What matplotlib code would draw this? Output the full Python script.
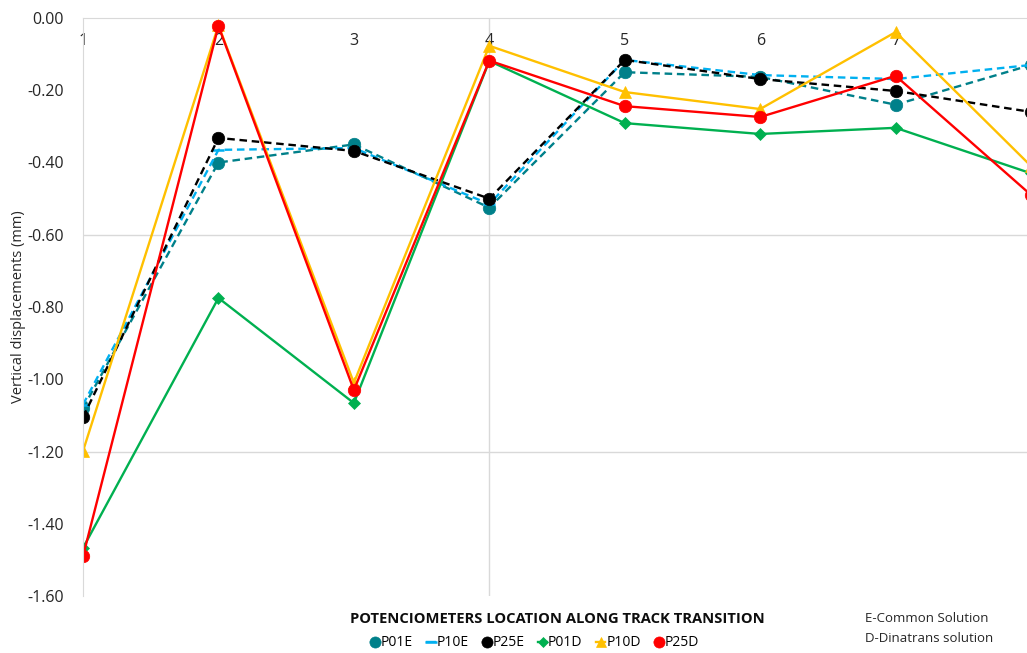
import matplotlib
matplotlib.use("Agg")
import matplotlib.pyplot as plt
from matplotlib.lines import Line2D

plt.rcParams['font.family'] = ['Open Sans', 'DejaVu Sans']

# potentiometer locations along the track transition
locations = [1, 2, 3, 4, 5, 6, 7, 8]
tick_labels = ["1", "2", "3", "4", "5", "6", "7"]

# vertical displacements (mm)
p01e = [-1.08, -0.40, -0.35, -0.525, -0.15, -0.163, -0.24, -0.13]
p10e = [-1.07, -0.365, -0.36, -0.515, -0.116, -0.158, -0.169, -0.13]
p25e = [-1.105, -0.332, -0.368, -0.50, -0.116, -0.169, -0.202, -0.26]
p01d = [-1.467, -0.775, -1.066, -0.119, -0.291, -0.321, -0.304, -0.43]
p10d = [-1.199, -0.02, -1.01, -0.077, -0.205, -0.252, -0.039, -0.41]
p25d = [-1.49, -0.022, -1.03, -0.118, -0.244, -0.274, -0.16, -0.49]

series = [
    ("P01E", p01e, "#00808A", "--", "o", 9),
    ("P10E", p10e, "#00B0F0", "--", "_", 9),
    ("P25E", p25e, "black", "--", "o", 9),
    ("P01D", p01d, "#00B050", "-", "D", 6),
    ("P10D", p10d, "#FFC000", "-", "^", 8),
    ("P25D", p25d, "#FF0000", "-", "o", 9),
]

fig = plt.figure(figsize=(10.27, 6.53), dpi=100)
ax = fig.add_axes([83 / 1027, 1 - 596 / 653, 1 - 83 / 1027, (596 - 18) / 653])

grid_c = "#D9D9D9"
for gy in [-0.6, -1.2]:
    ax.axhline(gy, color=grid_c, lw=1, zorder=0)
ax.axvline(4, color=grid_c, lw=1, zorder=0)

handles = []
for name, vals, col, ls, mk, ms in series:
    line, = ax.plot(locations, vals, color=col, linestyle=ls, lw=1.7,
                    marker=mk, markersize=ms, markeredgewidth=1.8 if mk == "_" else 0.5,
                    markeredgecolor=col, markerfacecolor=col)
    if ls == "--":
        line.set_dashes((3.2, 2))
    handles.append(Line2D([0], [0], color=col, lw=1.7, marker=mk, markersize=ms - 1,
                          markeredgecolor=col, markerfacecolor=col,
                          markeredgewidth=1.8 if mk == "_" else 0.5))

# category 8 sits just past the right edge, as in the cropped original
ax.set_xlim(1, 7.97)
ax.set_ylim(-1.6, 0)
ax.set_xticks(locations[:len(tick_labels)])
ax.set_xticklabels(tick_labels)
ax.set_yticks([-1.6, -1.4, -1.2, -1.0, -0.8, -0.6, -0.4, -0.2, 0.0])
ax.set_yticklabels([f"{v:.2f}" for v in ax.get_yticks()])

ax.spines['bottom'].set_position(('data', 0))
ax.spines['bottom'].set_color(grid_c)
ax.spines['left'].set_color(grid_c)
ax.spines['top'].set_visible(False)
ax.spines['right'].set_visible(False)
ax.tick_params(axis='x', length=0, pad=11, labelsize=11.5, colors="#262626")
ax.tick_params(axis='y', length=0, pad=14, labelsize=11.5, colors="#262626")
ax.set_ylabel("Vertical displacements (mm)", fontsize=10.5, color="#262626")
ax.yaxis.set_label_coords(-0.060, 0.5)

fig.text(557 / 1027, 1 - 619 / 653, "POTENCIOMETERS LOCATION ALONG TRACK TRANSITION",
         ha="center", va="center", fontsize=10.6, fontweight="bold", color="#0D0D0D")
fig.text(865 / 1027, 1 - 619 / 653, "E-Common Solution", ha="left", va="center",
         fontsize=9.5, color="#262626")
fig.text(865 / 1027, 1 - 638 / 653, "D-Dinatrans solution", ha="left", va="center",
         fontsize=9.5, color="#262626")

fig.legend(handles, [s[0] for s in series], loc="center", ncol=6,
           bbox_to_anchor=(535 / 1027, 1 - 643 / 653), frameon=False,
           fontsize=10, handlelength=0.6, handletextpad=0.1, columnspacing=1.0)

fig.savefig("out.png", dpi=100)
